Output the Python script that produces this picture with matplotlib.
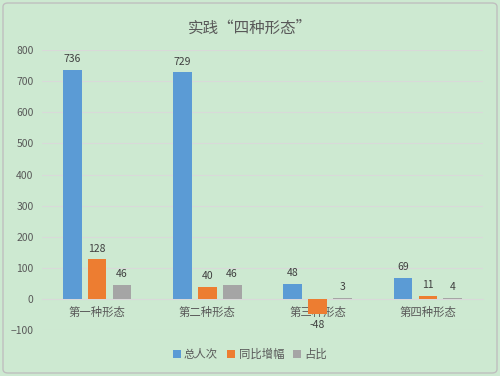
import matplotlib
matplotlib.use("Agg")
import matplotlib.pyplot as plt
import numpy as np
from matplotlib.patches import FancyBboxPatch

plt.rcParams['font.family'] = ['Noto Sans CJK SC', 'DejaVu Sans']

categories = ['第一种形态', '第二种形态', '第三种形态', '第四种形态']
series_names = ['总人次', '同比增幅', '占比']
total = [736, 729, 48, 69]
growth = [128, 40, -48, 11]
share = [46, 46, 3, 4]
colors = ['#5B9BD5', '#ED7D31', '#A5A5A5']
title = '实践“四种形态”'

bg = '#CDE9D1'
fig = plt.figure(figsize=(5, 3.76), dpi=100, facecolor=bg)
border = FancyBboxPatch((0.006, 0.008), 0.988, 0.984, boxstyle='round,pad=0,rounding_size=0.01',
                        transform=fig.transFigure, facecolor='none', edgecolor='#BFBFBF', lw=1.0)
fig.patches.append(border)

ax = fig.add_axes([0.084, 0.122, 0.882, 0.745])
ax.set_facecolor(bg)

x = np.arange(len(categories))
w = 0.17
gap = 0.055
offsets = [-(w + gap), 0, (w + gap)]
for vals, name, c, off in zip([total, growth, share], series_names, colors, offsets):
    bars = ax.bar(x + off, vals, width=w, color=c, label=name, zorder=3)
    for b, v in zip(bars, vals):
        if v >= 0:
            ax.text(b.get_x() + b.get_width() / 2, v + 18, str(v), ha='center', va='bottom',
                    fontsize=7.5, color='#404040')
        else:
            ax.text(b.get_x() + b.get_width() / 2, v - 18, str(v), ha='center', va='top',
                    fontsize=7.5, color='#404040')

ax.set_ylim(-100, 800)
ax.set_xlim(-0.5, 3.5)
ax.set_yticks(np.arange(-100, 801, 100))
ax.yaxis.grid(True, color='#D9D9D9', lw=0.8, zorder=0)
ax.tick_params(axis='y', length=0, labelsize=7.5, labelcolor='#595959', pad=6)
for s in ['top', 'right', 'left']:
    ax.spines[s].set_visible(False)
ax.spines['bottom'].set_position(('data', 0))
ax.spines['bottom'].set_color('#D9D9D9')
ax.set_xticks(x)
ax.set_xticklabels(categories)
ax.tick_params(axis='x', length=0, labelsize=8.2, labelcolor='#595959', pad=6)

fig.text(0.5, 0.925, title, ha='center', va='center', fontsize=11.2, color='#595959')

leg = fig.legend(loc='center', bbox_to_anchor=(0.5, 0.058), ncol=3, frameon=False,
                 fontsize=8.2, handlelength=0.7, handleheight=0.7, handletextpad=0.3,
                 columnspacing=0.8, labelcolor='#595959')

fig.savefig('out.png', dpi=100, facecolor=bg)
